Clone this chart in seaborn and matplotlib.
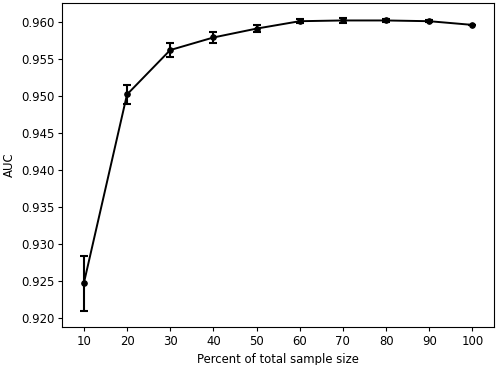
import matplotlib
matplotlib.use("Agg")
import matplotlib.pyplot as plt
import seaborn as sns
import pandas as pd

# percent of total sample size vs mean AUC, with error (half-width)
percent = [10, 20, 30, 40, 50, 60, 70, 80, 90, 100]
auc = [0.9247, 0.9502, 0.9562, 0.9579, 0.9591, 0.9601, 0.9602, 0.9602, 0.9601, 0.9596]
auc_err = [0.0037, 0.0013, 0.0010, 0.0008, 0.0005, 0.0003, 0.0003, 0.0002, 0.0001, 0.0]

df = pd.DataFrame({"percent": percent, "auc": auc, "err": auc_err})

# original looks like a default matplotlib figure shrunk a bit
plt.rcParams.update({
    "font.size": 8.4,
    "xtick.major.size": 2.9,
    "ytick.major.size": 2.9,
    "xtick.major.pad": 2.9,
    "ytick.major.pad": 2.9,
    "axes.labelpad": 3.3,
    "axes.linewidth": 0.8,
})

fig, ax = plt.subplots(figsize=(4.98, 3.65), dpi=100)
sns.lineplot(data=df, x="percent", y="auc", marker="o", markersize=4,
             color="black", linewidth=1.4, markeredgecolor="black", ax=ax)
ax.errorbar(df["percent"], df["auc"], yerr=df["err"], fmt="none",
            ecolor="black", elinewidth=1.5, capsize=3, capthick=1.5)

ax.set_xticks(percent)
ax.set_yticks([0.920, 0.925, 0.930, 0.935, 0.940, 0.945, 0.950, 0.955, 0.960])
ax.set_xlim(5.0, 105.0)
ax.set_ylim(0.91878, 0.96257)
ax.set_xlabel("Percent of total sample size")
ax.set_ylabel("AUC")

fig.subplots_adjust(left=0.125, right=0.992, top=0.992, bottom=0.104)
fig.savefig("out.png", dpi=100)
